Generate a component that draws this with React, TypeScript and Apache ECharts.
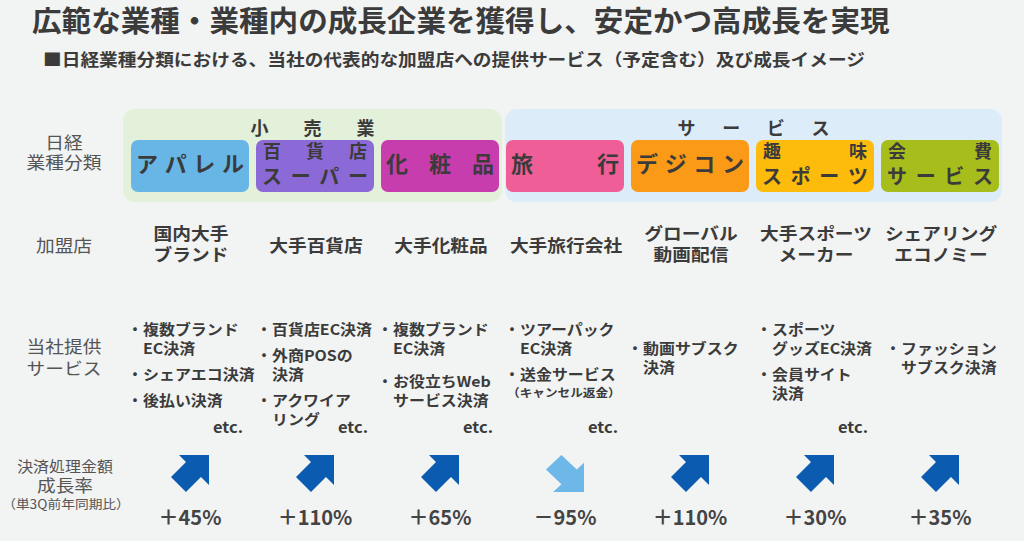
import React, { useEffect, useRef } from "react";
import * as echarts from "echarts";

// ---------- data ----------
const title = "広範な業種・業種内の成長企業を獲得し、安定かつ高成長を実現";
const subtitle = "■日経業種分類における、当社の代表的な加盟店への提供サービス（予定含む）及び成長イメージ";
const groupNames = ["小売業", "サービス"];
const groupMembers = [[0, 1, 2], [3, 4, 5, 6]];
const categories = ["アパレル", "百貨店スーパー", "化粧品", "旅行", "デジコン", "趣味スポーツ", "会費サービス"];
const categoryLines = [["アパレル"], ["百貨店", "スーパー"], ["化粧品"], ["旅行"], ["デジコン"], ["趣味", "スポーツ"], ["会費", "サービス"]];
const merchants = [["国内大手", "ブランド"], ["大手百貨店"], ["大手化粧品"], ["大手旅行会社"], ["グローバル", "動画配信"], ["大手スポーツ", "メーカー"], ["シェアリング", "エコノミー"]];
const services = [
  [["複数ブランド", "EC決済"], ["シェアエコ決済"], ["後払い決済"]],
  [["百貨店EC決済"], ["外商POSの", "決済"], ["アクワイア", "リング"]],
  [["複数ブランド", "EC決済"], ["お役立ちWeb", "サービス決済"]],
  [["ツアーパック", "EC決済"], ["送金サービス", "（キャンセル返金）"]],
  [["動画サブスク", "決済"]],
  [["スポーツ", "グッズEC決済"], ["会員サイト", "決済"]],
  [["ファッション", "サブスク決済"]],
];
const hasEtc = [true, true, true, true, false, true, false];
const growth = [45, 110, 65, -95, 110, 30, 35];
const rowLabels = [["日経", "業種分類"], ["加盟店"], ["当社提供", "サービス"], ["決済処理金額", "成長率", "（単3Q前年同期比）"]];

// ---------- styles / layout ----------
const FONT = '"Noto Sans CJK JP", "Noto Sans", sans-serif';
const BG = "#f2f3f3";
const TEXT = "#3b3b3b";
const LABEL = "#555555";
const groupColors = ["#e3f0da", "#ddecf9"];
const boxColors = ["#67b6e6", "#8b69d6", "#c83dae", "#ef5e97", "#fb9a16", "#fdbc0c", "#a7bd1c"];
const UP = "#0b5cb0";
const DOWN = "#6db7e9";
const COL_LEFT = 127.5;
const COL_W = 125;
const BOX_W = 118;
const boxX = (i: number) => COL_LEFT + 3.5 + COL_W * i;
const colX = (i: number) => COL_LEFT + COL_W * (i + 0.5);
const textIndent = [12, 16, 12, 14, 12, 16, 20];
const upPath = "path://M0,22L15,7L8,0L38,0L38,30L30,22L15,37Z";
const downPath = "path://M15,0L30,15L37,8L37,38L7,38L15,30L0,15Z";

function txt(text: string, x: number, y: number, size: number, o: any = {}) {
  const align = o.align || "center";
  return {
    type: "text",
    x,
    y,
    scaleX: o.sx ?? 1.1,
    silent: true,
    style: {
      text,
      font: `${o.weight || "bold"} ${size}px ${FONT}`,
      fill: o.color || TEXT,
      align,
      verticalAlign: "middle",
      textAlign: align,
      textVerticalAlign: "middle",
    },
  };
}

function justify(s: string, x0: number, x1: number, y: number, size: number, color = TEXT) {
  const chars = Array.from(s);
  const n = chars.length;
  return chars.map((c, k) =>
    txt(c, n === 1 ? (x0 + x1) / 2 : x0 + (k * (x1 - x0)) / (n - 1), y, size, { color, sx: 1 })
  );
}

function fmt(v: number) {
  return (v < 0 ? "－" : "＋") + Math.abs(v) + "%";
}

function buildGraphics() {
  const g: any[] = [];
  g.push(txt(title, 32, 19, 29, { align: "left", sx: 1.02 }));
  g.push(txt(subtitle, 43, 58, 17, { align: "left" }));

  // group backgrounds
  groupMembers.forEach((m, gi) => {
    const x0 = boxX(m[0]) - (gi === 0 ? 8 : 1);
    const x1 = boxX(m[m.length - 1]) + BOX_W + 3;
    g.push({ type: "rect", silent: true, shape: { x: x0, y: 109, width: x1 - x0, height: 93, r: 12 }, style: { fill: groupColors[gi] } });
    const cx = (x0 + x1) / 2;
    const half = gi === 0 ? 53 : 67;
    g.push(...justify(groupNames[gi], cx - half, cx + half, 127, 18));
  });

  // category boxes
  categoryLines.forEach((lines, i) => {
    const x = boxX(i);
    g.push({ type: "rect", silent: true, shape: { x, y: 140, width: BOX_W, height: 52, r: 7 }, style: { fill: boxColors[i] } });
    if (lines.length === 1) {
      g.push(...justify(lines[0], x + 16, x + 102, 162, 22));
    } else {
      g.push(...justify(lines[0], x + 16, x + 102, 150, 18));
      g.push(...justify(lines[1], x + 16, x + 102, 175, 20));
    }
  });

  // row labels
  g.push(txt(rowLabels[0][0], 64, 141, 17, { weight: "normal", color: LABEL }));
  g.push(txt(rowLabels[0][1], 64, 161, 17, { weight: "normal", color: LABEL }));
  g.push(txt(rowLabels[1][0], 64, 244, 17, { weight: "normal", color: LABEL }));
  g.push(txt(rowLabels[2][0], 64, 345, 17, { weight: "normal", color: LABEL }));
  g.push(txt(rowLabels[2][1], 64, 367, 17, { weight: "normal", color: LABEL }));
  g.push(txt(rowLabels[3][0], 65, 465, 14.5, { weight: "normal", color: LABEL }));
  g.push(txt(rowLabels[3][1], 65, 484, 17, { weight: "normal", color: LABEL }));
  g.push(txt(rowLabels[3][2], 66, 504, 12.5, { weight: "normal", color: LABEL }));

  // merchants
  merchants.forEach((lines, i) => {
    const cx = colX(i) + 1;
    if (lines.length === 1) g.push(txt(lines[0], cx, 244, 17));
    else {
      g.push(txt(lines[0], cx, 232, 17));
      g.push(txt(lines[1], cx, 253, 17));
    }
  });

  // services
  services.forEach((items, i) => {
    const x0 = boxX(i);
    const tx = x0 + textIndent[i];
    const gap = i === 2 ? 14 : 7;
    let y = items.length === 1 ? 347 : 328;
    items.forEach((lines) => {
      lines.forEach((ln, li) => {
        if (li === 0) g.push(txt("・", tx - 8, y, 14.5, { sx: 1 }));
        if (ln.startsWith("（")) g.push(txt(ln, tx - 13, y, 11.5, { align: "left" }));
        else g.push(txt(ln, tx, y, 14.5, { align: "left" }));
        y += 19;
      });
      y += gap;
    });
    if (hasEtc[i]) g.push(txt("etc.", x0 + 112, 427, 15, { align: "right" }));
  });
  return g;
}

export default function App() {
  const ref = useRef<HTMLDivElement>(null);
  useEffect(() => {
    if (!ref.current) return;
    const chart = echarts.init(ref.current, undefined, { renderer: "svg" });
    chart.setOption({
      animation: false,
      backgroundColor: BG,
      grid: { left: COL_LEFT, width: COL_W * categories.length, top: 455, height: 37 },
      xAxis: { type: "category", data: categories, show: false },
      yAxis: { type: "value", min: -1, max: 1, show: false },
      graphic: buildGraphics(),
      series: [
        {
          type: "scatter",
          silent: true,
          symbolSize: [38, 37],
          data: growth.map((v, i) => ({
            value: [i, 0, v],
            symbol: v < 0 ? downPath : upPath,
            itemStyle: { color: v < 0 ? DOWN : UP, opacity: 1 },
          })),
          label: {
            show: true,
            position: "bottom",
            distance: 14,
            formatter: (p: any) => fmt(p.value[2]),
            fontFamily: FONT,
            fontWeight: "bold",
            fontSize: 20,
            color: "#444444",
          },
        },
      ],
    });
    return () => chart.dispose();
  }, []);
  return <div ref={ref} style={{ position: "absolute", left: 0, top: 0, width: 1024, height: 541 }} />;
}
